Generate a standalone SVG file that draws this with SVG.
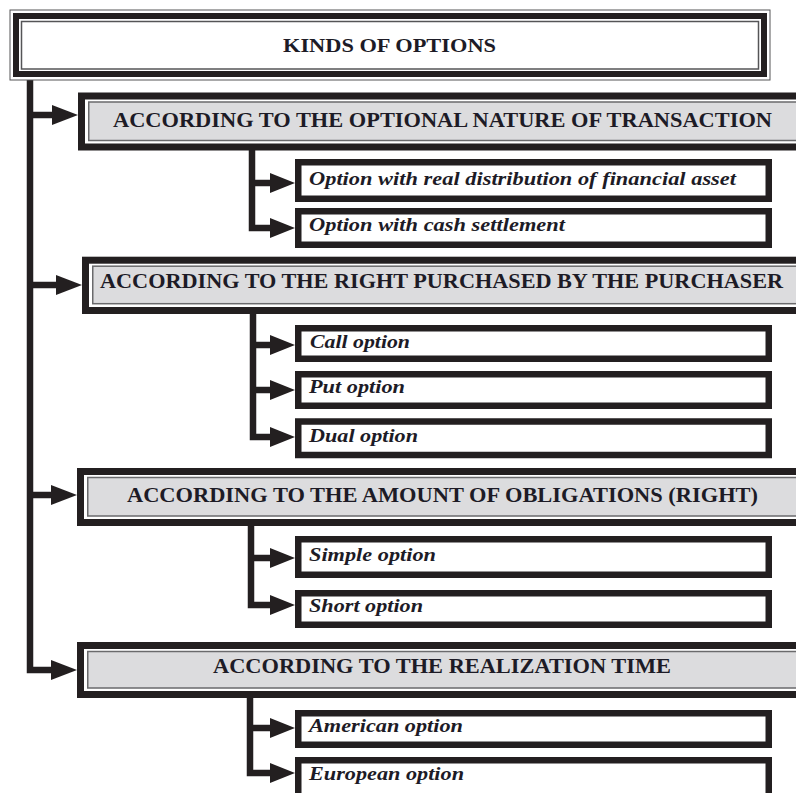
<svg xmlns="http://www.w3.org/2000/svg" width="796" height="793" viewBox="0 0 796 793">
  <style>
    .ink { fill: none; stroke: #231f20; stroke-width: 6.5; stroke-linejoin: miter; stroke-linecap: butt; }
    .catOuter { fill: #ffffff; stroke: #231f20; stroke-width: 7; }
    .catInner { fill: #dcdcde; stroke: #6a6a6c; stroke-width: 1.5; }
    .leaf { fill: #ffffff; stroke: #231f20; stroke-width: 6.5; }
    .cat { font-family: "Liberation Serif", "Times New Roman", serif; font-weight: bold; font-size: 20px; fill: #1d1b26; }
    .title { font-family: "Liberation Serif", "Times New Roman", serif; font-weight: bold; font-size: 18.5px; fill: #1d1b26; }
    .item { font-family: "Liberation Serif", "Times New Roman", serif; font-weight: bold; font-style: italic; font-size: 19px; fill: #1d1b26; }
  </style>
  <defs>
    <marker id="head" markerUnits="userSpaceOnUse" markerWidth="30" markerHeight="24" refX="1" refY="12" orient="auto">
      <path d="M0,2 L26,12 L0,22 z" fill="#231f20"/>
    </marker>
    <marker id="headS" markerUnits="userSpaceOnUse" markerWidth="30" markerHeight="24" refX="1" refY="12" orient="auto">
      <path d="M0,2 L25,12 L0,22 z" fill="#231f20"/>
    </marker>
  </defs>

  <rect width="796" height="793" fill="#ffffff"/>

  <!-- connectors -->
  <g id="connectors">
    <!-- trunk from the title down to the last category -->
    <path class="ink" d="M30,80 V670 H52" marker-end="url(#head)"/>
    <path class="ink" d="M30,115 H53" marker-end="url(#head)"/>
    <path class="ink" d="M30,285 H57" marker-end="url(#head)"/>
    <path class="ink" d="M30,495 H52" marker-end="url(#head)"/>
    <!-- group 1 -->
    <path class="ink" d="M252,150 V228 H271" marker-end="url(#headS)"/>
    <path class="ink" d="M252,183 H271" marker-end="url(#headS)"/>
    <!-- group 2 -->
    <path class="ink" d="M253,314 V437 H271" marker-end="url(#headS)"/>
    <path class="ink" d="M253,345 H271" marker-end="url(#headS)"/>
    <path class="ink" d="M253,390 H271" marker-end="url(#headS)"/>
    <!-- group 3 -->
    <path class="ink" d="M251,526 V605 H271" marker-end="url(#headS)"/>
    <path class="ink" d="M251,558 H271" marker-end="url(#headS)"/>
    <!-- group 4 -->
    <path class="ink" d="M250,698 V773 H271" marker-end="url(#headS)"/>
    <path class="ink" d="M250,728 H271" marker-end="url(#headS)"/>
  </g>

  <!-- title -->
  <g id="kinds">
    <rect x="10" y="10" width="760" height="70" fill="#ffffff" stroke="#555557" stroke-width="1"/>
    <rect x="16" y="16" width="748" height="58" fill="#ffffff" stroke="#231f20" stroke-width="6"/>
    <rect x="21.5" y="21.5" width="737" height="47.5" fill="#ffffff" stroke="#555557" stroke-width="1.5"/>
    <text class="title" x="283" y="52" textLength="213" lengthAdjust="spacingAndGlyphs">KINDS OF OPTIONS</text>
  </g>

  <!-- category 1 -->
  <g id="cat-nature">
    <rect class="catOuter" x="81.5" y="96" width="740" height="51"/>
    <rect class="catInner" x="88.75" y="102" width="730" height="38.5"/>
    <text class="cat" x="113" y="126.5" textLength="659" lengthAdjust="spacingAndGlyphs">ACCORDING TO THE OPTIONAL NATURE OF TRANSACTION</text>
  </g>
  <g id="opt-real">
    <rect class="leaf" x="298.25" y="162.25" width="470.5" height="36.5"/>
    <text class="item" x="309" y="184.5" textLength="427" lengthAdjust="spacingAndGlyphs">Option with real distribution of financial asset</text>
  </g>
  <g id="opt-cash">
    <rect class="leaf" x="298.25" y="211.25" width="470.5" height="33.5"/>
    <text class="item" x="309" y="230.5" textLength="256" lengthAdjust="spacingAndGlyphs">Option with cash settlement</text>
  </g>

  <!-- category 2 -->
  <g id="cat-right">
    <rect class="catOuter" x="85.5" y="260.2" width="740" height="50.3"/>
    <rect class="catInner" x="92.75" y="266.2" width="730" height="37.5"/>
    <text class="cat" x="100" y="288" textLength="683" lengthAdjust="spacingAndGlyphs">ACCORDING TO THE RIGHT PURCHASED BY THE PURCHASER</text>
  </g>
  <g id="opt-call">
    <rect class="leaf" x="298.25" y="328.25" width="470.5" height="30.5"/>
    <text class="item" x="310" y="347.5" textLength="100" lengthAdjust="spacingAndGlyphs">Call option</text>
  </g>
  <g id="opt-put">
    <rect class="leaf" x="298.25" y="374.25" width="470.5" height="31.5"/>
    <text class="item" x="309" y="393" textLength="96" lengthAdjust="spacingAndGlyphs">Put option</text>
  </g>
  <g id="opt-dual">
    <rect class="leaf" x="298.25" y="421.5" width="470.5" height="33.5"/>
    <text class="item" x="309" y="441.5" textLength="109" lengthAdjust="spacingAndGlyphs">Dual option</text>
  </g>

  <!-- category 3 -->
  <g id="cat-amount">
    <rect class="catOuter" x="80.5" y="471.5" width="740" height="51"/>
    <rect class="catInner" x="87.75" y="477.5" width="730" height="38.5"/>
    <text class="cat" x="127" y="501.5" textLength="631" lengthAdjust="spacingAndGlyphs">ACCORDING TO THE AMOUNT OF OBLIGATIONS (RIGHT)</text>
  </g>
  <g id="opt-simple">
    <rect class="leaf" x="298.25" y="539.25" width="470.5" height="35.5"/>
    <text class="item" x="309" y="560.5" textLength="127" lengthAdjust="spacingAndGlyphs">Simple option</text>
  </g>
  <g id="opt-short">
    <rect class="leaf" x="298.25" y="593.25" width="470.5" height="31.5"/>
    <text class="item" x="309" y="611.5" textLength="114" lengthAdjust="spacingAndGlyphs">Short option</text>
  </g>

  <!-- category 4 -->
  <g id="cat-time">
    <rect class="catOuter" x="80.5" y="645.5" width="740" height="49"/>
    <rect class="catInner" x="87.75" y="651.5" width="730" height="36.5"/>
    <text class="cat" x="213" y="673" textLength="458" lengthAdjust="spacingAndGlyphs">ACCORDING TO THE REALIZATION TIME</text>
  </g>
  <g id="opt-american">
    <rect class="leaf" x="298.25" y="713.25" width="470.5" height="31.5"/>
    <text class="item" x="309" y="731.5" textLength="154" lengthAdjust="spacingAndGlyphs">American option</text>
  </g>
  <g id="opt-european">
    <rect class="leaf" x="298.25" y="760.25" width="470.5" height="50"/>
    <text class="item" x="309" y="780" textLength="155" lengthAdjust="spacingAndGlyphs">European option</text>
  </g>
</svg>
